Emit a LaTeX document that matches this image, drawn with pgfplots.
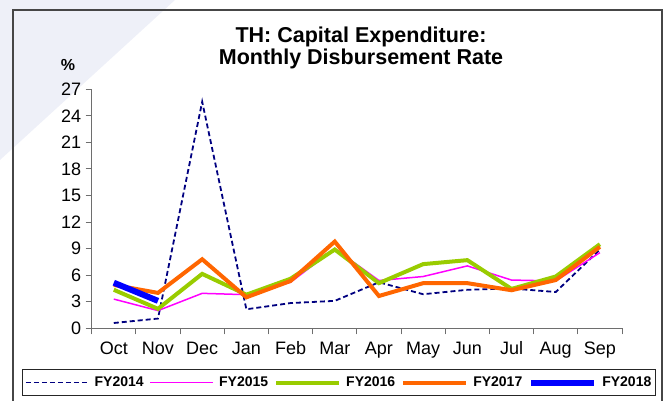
\documentclass[border=0pt]{standalone}
\usepackage{fontspec}
\setmainfont{Liberation Sans}
\usepackage{pgfplots}
\pgfplotsset{compat=1.18}
\definecolor{c14}{RGB}{0,0,128}
\definecolor{c15}{RGB}{255,0,255}
\definecolor{c16}{RGB}{153,204,0}
\definecolor{c17}{RGB}{255,102,0}
\definecolor{c18}{RGB}{0,0,255}
\definecolor{bgc}{RGB}{238,240,248}
\definecolor{framec}{RGB}{70,70,70}
\definecolor{axc}{RGB}{110,110,110}
\begin{document}
\begin{tikzpicture}[x=1pt,y=1pt]
\useasboundingbox (0,0) rectangle (671,400);
\fill[bgc] (0,400) -- (175,400) -- (0,240) -- cycle;
\draw[framec, line width=1.5pt] (13,-5) -- (13,390) -- (662,390) -- (662,-5);
\node[font=\bfseries\fontsize{21.5}{22}\selectfont, align=center] at (361,352) {TH: Capital Expenditure:\\Monthly Disbursement Rate};
\node[font=\bfseries\fontsize{16}{16}\selectfont] at (68,335) {\%};
\begin{axis}[
  at={(91.7pt,71.7pt)}, anchor=south west,
  scale only axis, width=530.3pt, height=239pt,
  xmin=-0.5, xmax=11.5, ymin=0, ymax=27,
  axis x line*=bottom, axis y line*=left,
  axis line style={draw=axc, line width=1pt},
  tick align=outside,
  xtick={0,...,11},
  xticklabels={Oct,Nov,Dec,Jan,Feb,Mar,Apr,May,Jun,Jul,Aug,Sep},
  minor xtick={-0.5,0.5,...,11.5},
  major x tick style={draw=none},
  minor x tick style={draw=axc, line width=1pt},
  minor tick length=6pt,
  major tick length=6pt,
  ytick={0,3,...,27},
  major y tick style={draw=axc, line width=1pt},
  ticklabel style={font=\fontsize{18}{18}\selectfont},
  xticklabel style={yshift=-4pt},
  yticklabel style={xshift=-1pt},
  /pgf/number format/assume math mode=true,
  clip=false,
  legend style={at={(0.4665,-0.2268)}, anchor=center, legend columns=5,
    draw=black!85, line width=0.8pt,
    font=\bfseries\fontsize{14}{14}\selectfont,
    /tikz/every even column/.append style={column sep=4pt},
    /tikz/every odd column/.append style={column sep=3pt},
    inner ysep=5pt, inner xsep=2pt},
  legend image code/.code={\draw[#1] (0pt,0pt) -- (63pt,0pt);},
]
\addplot[c14, line width=1.8pt, dash pattern=on 5pt off 3pt] coordinates {
(0,0.6) (1,1.1) (2,25.6) (3,2.15) (4,2.85) (5,3.1) (6,5.2) (7,3.85) (8,4.35) (9,4.5) (10,4.1) (11,8.9)};
\addlegendentry{FY2014}
\addplot[c15, line width=1.5pt] coordinates {
(0,3.3) (1,2.0) (2,3.95) (3,3.8) (4,5.2) (5,9.0) (6,5.4) (7,5.85) (8,7.05) (9,5.45) (10,5.35) (11,8.55)};
\addlegendentry{FY2015}
\addplot[c16, line width=4pt] coordinates {
(0,4.35) (1,2.2) (2,6.15) (3,3.8) (4,5.6) (5,8.9) (6,5.1) (7,7.25) (8,7.7) (9,4.45) (10,5.85) (11,9.5)};
\addlegendentry{FY2016}
\addplot[c17, line width=4pt] coordinates {
(0,4.9) (1,4.0) (2,7.8) (3,3.5) (4,5.35) (5,9.8) (6,3.65) (7,5.1) (8,5.1) (9,4.3) (10,5.45) (11,9.2)};
\addlegendentry{FY2017}
\addplot[c18, line width=6pt] coordinates {(0,5.15) (1,3.1)};
\addlegendentry{FY2018}
\end{axis}
\end{tikzpicture}
\end{document}
